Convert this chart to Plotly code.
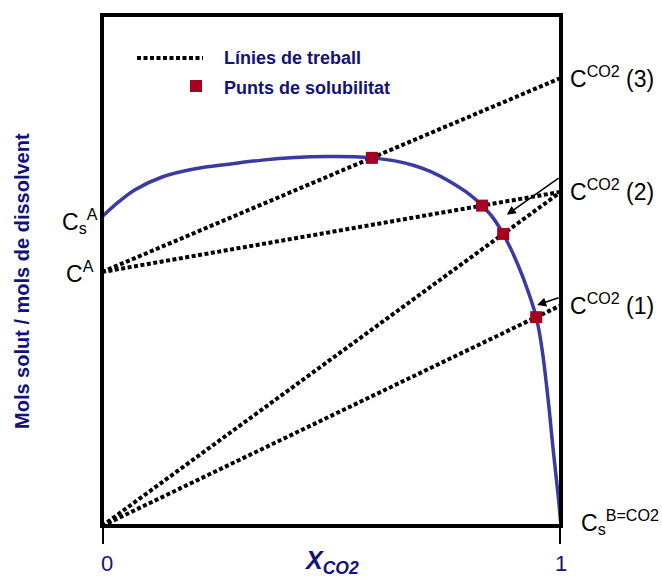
import plotly.graph_objects as go

# Solubility curve of the solute (mole ratio vs CO2 fraction)
x_curve = [0.0, 0.028, 0.072, 0.131, 0.203, 0.275, 0.349, 0.420, 0.492, 0.551,
           0.588, 0.638, 0.678, 0.715, 0.752, 0.802, 0.828, 0.852, 0.874, 0.895,
           0.917, 0.946, 0.959, 0.972, 0.983, 0.994, 1.0]
y_curve = [0.605, 0.628, 0.658, 0.683, 0.699, 0.708, 0.716, 0.721, 0.723, 0.7225,
           0.7204, 0.7145, 0.706, 0.694, 0.677, 0.648, 0.627, 0.603, 0.5716, 0.534,
           0.487, 0.4087, 0.344, 0.247, 0.149, 0.058, 0.0]

# Key concentrations on the vertical axes
c_s_a = 0.605   # solubility in pure solvent A
c_a = 0.497     # initial concentration
c_co2 = {"(1)": 0.432, "(2)": 0.654, "(3)": 0.877}

# Working lines: (value at x=0, value at x=1)
work_lines = [
    (c_a, c_co2["(3)"]),
    (c_a, c_co2["(2)"]),
    (0.0, c_co2["(2)"]),
    (0.0, c_co2["(1)"]),
]
# Solubility points: x position and the working line they lie on
sol_x = [0.588, 0.828, 0.874, 0.946]
sol_line = [0, 1, 2, 3]

x_ticks = [0, 1]
x_ticklabels = ["0", "1"]

NAVY = "#12127a"
BLUE = "#3a3aa0"
RED = "#a50021"
FONT = "Arial, Liberation Sans, sans-serif"

L, R, T, B = 102, 101, 15, 52
W, H = 662, 578
PW, PH = W - L - R, H - T - B


def px(xp):
    return (xp - L) / PW


def py(yp):
    return (H - B - yp) / PH


fig = go.Figure()

for y0, y1 in work_lines:
    fig.add_trace(go.Scatter(
        x=[0, 1], y=[y0, y1], mode="lines",
        line=dict(color="black", width=4, dash="4px,2.5px"),
        hoverinfo="skip", showlegend=False))

fig.add_trace(go.Scatter(
    x=x_curve, y=y_curve, mode="lines",
    line=dict(color=BLUE, width=3.5, shape="spline", smoothing=1.0),
    showlegend=False))

sol_y = [work_lines[k][0] + (work_lines[k][1] - work_lines[k][0]) * xv
         for xv, k in zip(sol_x, sol_line)]
fig.add_trace(go.Scatter(
    x=sol_x, y=sol_y, mode="markers",
    marker=dict(symbol="square", size=12, color=RED),
    showlegend=False))

TICK_LEN = 18 / PH
shapes = [
    # frame
    dict(type="rect", xref="paper", yref="paper", x0=0, x1=1, y0=0, y1=1,
         line=dict(color="black", width=4), layer="above"),
    # legend: working-line sample
    dict(type="line", xref="paper", yref="paper",
         x0=px(137), x1=px(203), y0=py(58), y1=py(58),
         line=dict(color="black", width=4, dash="4px,2.5px")),
    # legend: solubility point sample
    dict(type="rect", xref="paper", yref="paper",
         x0=px(190), x1=px(202), y0=py(80), y1=py(92),
         fillcolor=RED, line=dict(width=0)),
]

annotations = [
    dict(x=px(222), y=py(58), xref="paper", yref="paper", xanchor="left",
         yanchor="middle", showarrow=False, text="<b>Línies de treball</b>",
         font=dict(family=FONT, size=18, color=NAVY)),
    dict(x=px(222), y=py(88), xref="paper", yref="paper", xanchor="left",
         yanchor="middle", showarrow=False, text="<b>Punts de solubilitat</b>",
         font=dict(family=FONT, size=18, color=NAVY)),
    # y axis title
    dict(x=0, y=py(281), xref="paper", yref="paper", xshift=-80,
         xanchor="center", yanchor="middle", textangle=-90, showarrow=False,
         text="<b>Mols solut / mols de dissolvent</b>",
         font=dict(family=FONT, size=20, color=NAVY)),
    # x axis title
    dict(x=0.5, y=0, xref="paper", yref="paper", yshift=-36,
         xanchor="center", yanchor="middle", showarrow=False,
         text="<b><i>X<sub>CO2</sub></i></b>",
         font=dict(family=FONT, size=25, color=NAVY)),
    # left-axis labels
    dict(x=0, y=c_s_a, xref="x", yref="y", xanchor="right", yanchor="middle",
         xshift=-2, yshift=-4, showarrow=False,
         text="C<sub>s</sub><sup>A</sup>",
         font=dict(family=FONT, size=23, color="black")),
    dict(x=0, y=c_a, xref="x", yref="y", xanchor="right", yanchor="middle",
         xshift=-6, showarrow=False, text="C<sup>A</sup>",
         font=dict(family=FONT, size=23, color="black")),
    # bottom-right label
    dict(x=1, y=0, xref="x", yref="y", xanchor="left", yanchor="middle",
         xshift=18, yshift=4, showarrow=False,
         text="C<sub>s</sub><sup>B=CO2</sup>",
         font=dict(family=FONT, size=23, color="black")),
]

# outside tick marks and their labels at x = 0 and x = 1
for tv, tl in zip(x_ticks, x_ticklabels):
    shapes.append(dict(type="line", xref="x", yref="paper", x0=tv, x1=tv,
                       y0=0, y1=-TICK_LEN, line=dict(color="black", width=4)))
    annotations.append(dict(x=tv, y=0, xref="x", yref="paper",
                            xanchor="center", yanchor="middle",
                            xshift=5 if tv == 0 else 0, yshift=-37,
                            showarrow=False, text=tl,
                            font=dict(family=FONT, size=22, color=NAVY)))

for key, val in c_co2.items():
    annotations.append(dict(
        x=1, y=val, xref="x", yref="y", xanchor="left", yanchor="middle",
        xshift=7, yshift=1 if key != "(2)" else 2, showarrow=False,
        text="C<sup>CO2</sup> " + key,
        font=dict(family=FONT, size=23, color="black")))

# pointer arrows toward the solubility points
annotations.append(dict(x=0.882, y=0.609, ax=0.998, ay=0.683,
                        xref="x", yref="y", axref="x", ayref="y", text="",
                        showarrow=True, arrowhead=2, arrowsize=1.2,
                        arrowwidth=1.5, arrowcolor="black"))
annotations.append(dict(x=0.948, y=0.4325, ax=0.998, ay=0.4475,
                        xref="x", yref="y", axref="x", ayref="y", text="",
                        showarrow=True, arrowhead=2, arrowsize=1.2,
                        arrowwidth=1.5, arrowcolor="black"))

fig.update_layout(
    width=W, height=H,
    margin=dict(l=L, r=R, t=T, b=B, pad=0),
    paper_bgcolor="white", plot_bgcolor="white",
    shapes=shapes, annotations=annotations,
    showlegend=False,
    xaxis=dict(range=[0, 1], showgrid=False, zeroline=False, showline=False,
               showticklabels=False, ticks=""),
    yaxis=dict(range=[0, 1], showgrid=False, zeroline=False, showline=False,
               showticklabels=False, ticks=""),
)

fig.write_html("out.html")
